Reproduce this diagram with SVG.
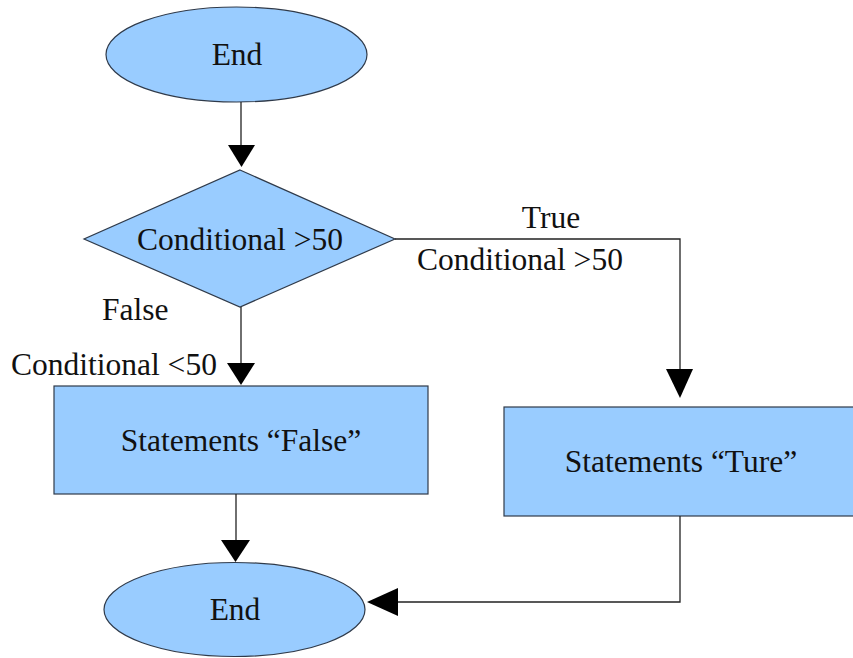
<svg xmlns="http://www.w3.org/2000/svg" width="853" height="658" viewBox="0 0 853 658">
  <style>
    .shape { fill: #99ccff; stroke: #2f3a4a; stroke-width: 1.2; }
    .label { font-family: "Liberation Serif", "Times New Roman", serif; font-size: 31.5px; fill: #111; }
    .mid { text-anchor: middle; }
    .wire { fill: none; stroke: #222; stroke-width: 1.3; }
    .head { fill: #000; }
  </style>
  <rect width="853" height="658" fill="#ffffff"/>

  <g id="start">
    <ellipse class="shape" cx="236.5" cy="54.5" rx="130.5" ry="47.5"/>
    <text class="label mid" x="237" y="65">End</text>
  </g>

  <g id="decision">
    <polygon class="shape" points="240,170 395,239 240,307 84,239"/>
    <text class="label mid" x="240" y="250">Conditional &gt;50</text>
  </g>

  <g id="statements-false">
    <rect class="shape" x="54" y="386" width="374" height="108"/>
    <text class="label mid" x="241" y="451">Statements “False”</text>
  </g>

  <g id="statements-true">
    <rect class="shape" x="504" y="407" width="360" height="109"/>
    <text class="label mid" x="681" y="472">Statements “Ture”</text>
  </g>

  <g id="end">
    <ellipse class="shape" cx="234.5" cy="609.5" rx="130.5" ry="47"/>
    <text class="label mid" x="235" y="620">End</text>
  </g>

  <g id="connectors">
    <!-- start to decision -->
    <line class="wire" x1="241" y1="102" x2="241" y2="147"/>
    <polygon class="head" points="228,145 255,145 241.5,167"/>
    <!-- false branch -->
    <line class="wire" x1="241" y1="307" x2="241" y2="365"/>
    <polygon class="head" points="227,363 255,363 241,385"/>
    <!-- true branch -->
    <polyline class="wire" points="395,239 680,239 680,371"/>
    <polygon class="head" points="666,369 693,369 680,398"/>
    <!-- false statements to end -->
    <line class="wire" x1="236" y1="494" x2="236" y2="542"/>
    <polygon class="head" points="221,540 250,540 235.5,562"/>
    <!-- true statements to end -->
    <polyline class="wire" points="680,516 680,602 396,602"/>
    <polygon class="head" points="398,588 398,616 367,602"/>
  </g>

  <g id="labels">
    <text class="label mid" x="551" y="228">True</text>
    <text class="label" x="417" y="270">Conditional &gt;50</text>
    <text class="label" x="102" y="320">False</text>
    <text class="label" x="11" y="375">Conditional &lt;50</text>
  </g>
</svg>
